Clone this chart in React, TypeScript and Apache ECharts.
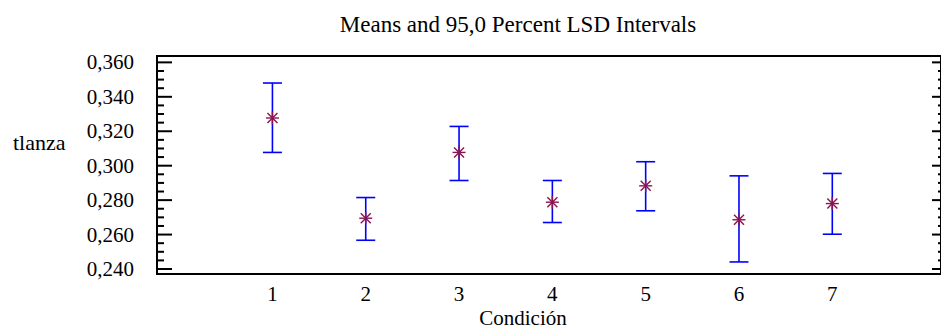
import React, { useEffect, useRef } from "react";
import * as echarts from "echarts";

const conditions = [1, 2, 3, 4, 5, 6, 7];
const means = [0.3277, 0.2695, 0.3077, 0.2788, 0.2883, 0.2686, 0.278];
const lowerLimits = [0.3077, 0.2567, 0.2914, 0.267, 0.2738, 0.2441, 0.2602];
const upperLimits = [0.348, 0.2815, 0.3228, 0.2914, 0.3023, 0.2941, 0.2955];
const yTickValues = [0.24, 0.26, 0.28, 0.3, 0.32, 0.34, 0.36];

const titleText = "Means and 95,0 Percent LSD Intervals";
const xName = "Condición";
const yName = "tlanza";

const FONT = "'Liberation Serif', 'Times New Roman', serif";

export default function App() {
  const ref = useRef<HTMLDivElement>(null);
  useEffect(() => {
    if (!ref.current) return;
    const chart = echarts.init(ref.current, undefined, { renderer: "svg" });

    const minorTicks: number[] = [];
    for (let i = 0; i < yTickValues.length - 1; i++) {
      for (let k = 1; k < 4; k++) {
        minorTicks.push(+(yTickValues[i] + (k * (yTickValues[i + 1] - yTickValues[i])) / 4).toFixed(4));
      }
    }
    const xMin = -0.237;
    const xMax = 8.165;
    const yMin = 0.2371;
    const yMax = 0.3637;
    const fmt = (v: number) => v.toFixed(3).replace(".", ",");

    const data = conditions.map((c, i) => [c, means[i], lowerLimits[i], upperLimits[i]]);
    const tickData = [
      ...yTickValues.map((v) => [xMin, v, 1]),
      ...minorTicks.map((v) => [xMin, v, 0]),
    ];

    chart.setOption({
      animation: false,
      backgroundColor: "#fff",
      grid: {
        left: 157,
        right: -2,
        top: 56,
        bottom: 56,
        show: true,
        borderColor: "#000",
        borderWidth: 2,
      },
      xAxis: {
        type: "value",
        min: xMin,
        max: xMax,
        splitLine: { show: false },
        axisLine: { show: false },
        axisTick: { show: false },
        axisLabel: {
          customValues: conditions,
          formatter: (v: number) => String(v),
          fontFamily: FONT,
          fontSize: 21,
          color: "#000",
          margin: 9,
        },
      },
      yAxis: {
        type: "value",
        min: yMin,
        max: yMax,
        splitLine: { show: false },
        axisLine: { show: false },
        axisTick: { show: false },
        axisLabel: {
          customValues: yTickValues,
          formatter: fmt,
          fontFamily: FONT,
          fontSize: 21,
          color: "#000",
          margin: 23,
        },
      },
      graphic: [
        {
          type: "text",
          x: 518,
          y: 24,
          style: {
            text: titleText,
            textAlign: "center",
            textVerticalAlign: "middle",
            fontFamily: FONT,
            fontSize: 23,
            fill: "#000",
          },
        },
        {
          type: "text",
          x: 13,
          y: 142,
          style: {
            text: yName,
            textAlign: "left",
            textVerticalAlign: "middle",
            fontFamily: FONT,
            fontSize: 22,
            fill: "#000",
          },
        },
        {
          type: "text",
          x: 523,
          y: 318,
          style: {
            text: xName,
            textAlign: "center",
            textVerticalAlign: "middle",
            fontFamily: FONT,
            fontSize: 21,
            fill: "#000",
          },
        },
      ],
      series: [
        {
          type: "custom",
          name: "ticks",
          encode: { x: 0, y: 1 },
          data: tickData,
          silent: true,
          renderItem: (params: any, api: any) => {
            const cs = params.coordSys;
            const y = api.coord([xMin, api.value(1)])[1];
            const major = api.value(2) === 1;
            const left = cs.x;
            const right = cs.x + cs.width;
            const lenL = major ? 15 : 7;
            const lenR = major ? 9 : 3;
            const st = { stroke: "#000", lineWidth: 2 };
            return {
              type: "group",
              children: [
                { type: "line", shape: { x1: left, y1: y, x2: left + lenL, y2: y }, style: st },
                { type: "line", shape: { x1: right - lenR, y1: y, x2: right, y2: y }, style: st },
              ],
            };
          },
        },
        {
          type: "custom",
          name: "LSD",
          encode: { x: 0, y: [1, 2, 3] },
          data,
          renderItem: (_params: any, api: any) => {
            const x = api.value(0);
            const pm = api.coord([x, api.value(1)]);
            const pl = api.coord([x, api.value(2)]);
            const ph = api.coord([x, api.value(3)]);
            const cap = 9.5;
            const s = 6.5;
            const d = 5;
            const bar = { stroke: "#0000ff", lineWidth: 1.6 };
            const star = { stroke: "#8b1450", lineWidth: 1.4 };
            return {
              type: "group",
              children: [
                { type: "line", shape: { x1: pl[0], y1: pl[1], x2: ph[0], y2: ph[1] }, style: bar },
                { type: "line", shape: { x1: ph[0] - cap, y1: ph[1], x2: ph[0] + cap, y2: ph[1] }, style: bar },
                { type: "line", shape: { x1: pl[0] - cap, y1: pl[1], x2: pl[0] + cap, y2: pl[1] }, style: bar },
                { type: "line", shape: { x1: pm[0] - s, y1: pm[1], x2: pm[0] + s, y2: pm[1] }, style: star },
                { type: "line", shape: { x1: pm[0], y1: pm[1] - s, x2: pm[0], y2: pm[1] + s }, style: star },
                { type: "line", shape: { x1: pm[0] - d, y1: pm[1] - d, x2: pm[0] + d, y2: pm[1] + d }, style: star },
                { type: "line", shape: { x1: pm[0] - d, y1: pm[1] + d, x2: pm[0] + d, y2: pm[1] - d }, style: star },
              ],
            };
          },
        },
      ],
    });
    return () => chart.dispose();
  }, []);

  return (
    <div
      ref={ref}
      style={{ position: "absolute", left: 0, top: 0, width: 941, height: 330, background: "#fff" }}
    />
  );
}
